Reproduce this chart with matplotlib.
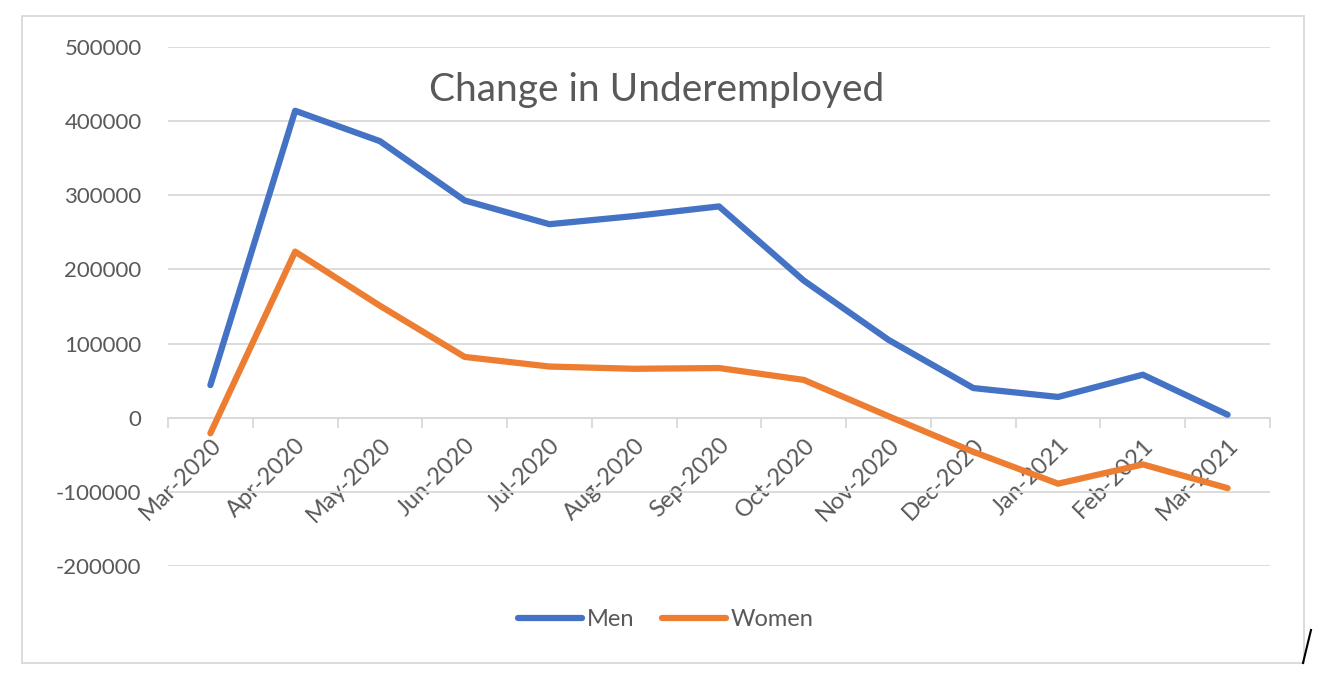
import matplotlib
matplotlib.use("Agg")
import matplotlib.pyplot as plt
from matplotlib.patches import Rectangle
from matplotlib.lines import Line2D

months = ["Mar-2020", "Apr-2020", "May-2020", "Jun-2020", "Jul-2020", "Aug-2020",
          "Sep-2020", "Oct-2020", "Nov-2020", "Dec-2020", "Jan-2021", "Feb-2021", "Mar-2021"]
men = [44000, 414000, 373000, 293000, 261000, 272000, 285000, 185000, 105000, 40000, 28000, 58000, 4000]
women = [-21000, 224000, 151000, 82000, 69000, 66000, 67000, 51000, 2000, -46000, -89000, -63000, -95000]
yticks = [-200000, -100000, 0, 100000, 200000, 300000, 400000, 500000]

plt.rcParams['font.family'] = ['Lato', 'DejaVu Sans']
W, H = 1324, 681
fig = plt.figure(figsize=(W / 100, H / 100), dpi=100)
ax = fig.add_axes([168 / W, 1 - 566 / H, (1270 - 168) / W, (566 - 47) / H])

grid_c = "#d9d9d9"
text_c = "#595959"

x = list(range(len(months)))
ax.plot(x, men, color="#4472C4", lw=4.5, solid_capstyle="round", solid_joinstyle="round", label="Men", zorder=3)
ax.plot(x, women, color="#ED7D31", lw=4.5, solid_capstyle="round", solid_joinstyle="round", label="Women", zorder=3)

ax.set_xlim(-0.5, len(months) - 0.5)
ax.set_ylim(-200000, 500000)
ax.set_yticks(yticks)
ax.set_yticklabels([str(v) for v in yticks])
ax.yaxis.grid(True, color=grid_c, lw=1.3)
ax.set_axisbelow(True)
for s in ["left", "right", "top"]:
    ax.spines[s].set_visible(False)
ax.spines["bottom"].set_position(("data", 0))
ax.spines["bottom"].set_color(grid_c)
ax.spines["bottom"].set_linewidth(1.3)
ax.tick_params(axis="y", length=0, pad=19, labelsize=16, labelcolor=text_c)

ax.set_xticks(x)
ax.set_xticklabels(months, rotation=45, ha="right", rotation_mode="anchor")
ax.set_xticks([i - 0.5 for i in range(len(months) + 1)], minor=True)
ax.tick_params(axis="x", which="major", length=0, pad=12, labelsize=17, labelcolor=text_c)
ax.tick_params(axis="x", which="minor", length=7, width=1.3, color=grid_c)

fig.text(657 / W, 1 - 90 / H, "Change in Underemployed", ha="center", va="center",
         fontsize=28, color=text_c)

handles = [Line2D([], [], color="#4472C4", lw=4.5, solid_capstyle="round"),
           Line2D([], [], color="#ED7D31", lw=4.5, solid_capstyle="round")]
fig.legend(handles, ["Men", "Women"], loc="center", bbox_to_anchor=(666 / W, 1 - 620 / H),
           ncol=2, frameon=False, fontsize=17, labelcolor=text_c, handlelength=2.7,
           handletextpad=0.2, columnspacing=1.2)

fig.patches.append(Rectangle((22 / W, 1 - 663 / H), (1304 - 22) / W, (663 - 16) / H,
                             transform=fig.transFigure, fill=False, edgecolor=grid_c, lw=1.3))
fig.lines.append(Line2D([1303 / W, 1311 / W], [1 - 663 / H, 1 - 630 / H],
                       transform=fig.transFigure, color="black", lw=1.5))

fig.savefig("out.png", dpi=100)
